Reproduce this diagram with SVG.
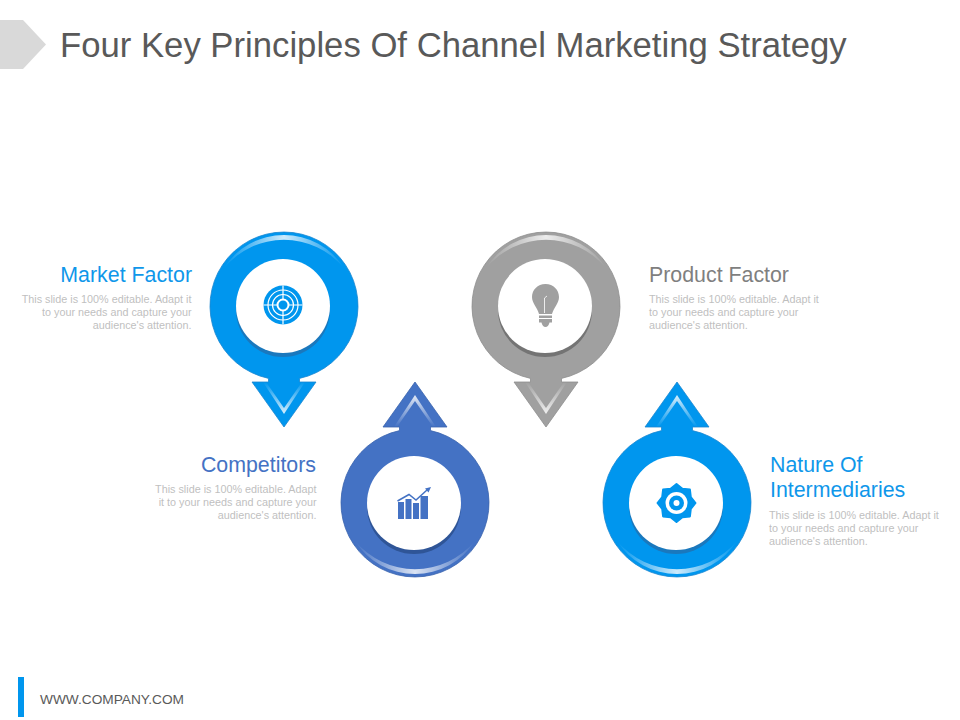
<svg xmlns="http://www.w3.org/2000/svg" width="960" height="720" viewBox="0 0 960 720">
<style>
text{font-family:"Liberation Sans",Arial,sans-serif}
.title{font-size:34.700px;fill:#595959}
.h{font-size:21.350px}
.d{font-size:10.800px;fill:#bfbfbf}
.e{text-anchor:end}
.blue{fill:#0096ee;stroke:#1a86d0;stroke-width:.8}
.navy{fill:#4472c4;stroke:#3a63ad;stroke-width:.8}
.gray{fill:#a0a0a0;stroke:#8e8e8e;stroke-width:.8}
.foot{font-size:13.700px;fill:#595959}
</style>
<defs>
<path id="pin" d="M-15.500 72.400A74 74 0 1 1 15.500 72.400V76H32L0 121L-32 76H-15.500Z"/>
<linearGradient id="sh" x1="0" y1="0" x2="1" y2="0">
<stop offset="0" stop-color="#fff" stop-opacity="0"/>
<stop offset=".5" stop-color="#fff" stop-opacity=".8"/>
<stop offset="1" stop-color="#fff" stop-opacity="0"/>
</linearGradient>
<linearGradient id="chev" x1="0" y1="0" x2="0" y2="1">
<stop offset="0" stop-color="#fff" stop-opacity="0"/>
<stop offset="1" stop-color="#fff" stop-opacity=".85"/>
</linearGradient>
<path id="crescent" fill="url(#sh)" d="M-60 -38A71 71 0 0 1 60 -38A78 78 0 0 0 -60 -38Z"/>
<path id="chevron" fill="url(#chev)" d="M-21 76L0 108L21 76H18L0 102L-18 76Z"/>
<g id="gloss"><use href="#crescent"/><use href="#chevron"/></g>
</defs>
<g id="header">
<polygon points="0,20 23,20 46,44.500 23,69 0,69" fill="#d9d9d9"/>
<text class="title" x="60" y="57">Four Key Principles Of Channel Marketing Strategy</text>
</g>
<g id="connectors"/>
<g id="node-market-factor">
<g transform="translate(284 306)">
<use href="#pin" class="blue"/>
<use href="#gloss"/>
<circle cx="-1" cy="4" r="47" fill="#1a78bd"/>
<circle cx="-1" cy="0" r="47" fill="#fff"/>
</g>
<g id="icon-target" transform="translate(283 305)">
<circle r="19.500" fill="#0096ee"/>
<g fill="none" stroke="#fff" stroke-width="1.200">
<circle r="15"/><circle r="10.500"/><circle r="5.500" stroke-width="2"/>
<path d="M-19.500 0H-5.500M5.500 0H19.500M0 -19.500V-5.500M0 5.500V19.500"/>
</g>
</g>
<text class="h e" x="192" y="282" fill="#0f97ea">Market Factor</text>
<text class="d e" x="191.500" y="302.500">This slide is 100% editable. Adapt it</text>
<text class="d e" x="191.500" y="315.500">to your needs and capture your</text>
<text class="d e" x="191.500" y="328.500">audience's attention.</text>
</g>
<g id="node-competitors">
<g transform="translate(415 503)">
<use href="#pin" class="navy" transform="rotate(180)"/>
<use href="#gloss" transform="rotate(180)"/>
<circle cx="-1" cy="4" r="47" fill="#2f5597"/>
<circle cx="-1" cy="0" r="47" fill="#fff"/>
</g>
<g id="icon-chart" fill="#4472c4">
<rect x="398" y="502" width="6" height="17"/>
<rect x="405.500" y="499" width="6" height="20"/>
<rect x="413" y="503" width="6" height="16"/>
<rect x="420.500" y="496" width="7.500" height="23"/>
<path d="M397.500 501L409 494.500L416 500L427 490" fill="none" stroke="#4472c4" stroke-width="1.500"/>
<polygon points="431,487 425,488.500 428.500,492.500"/>
</g>
<text class="h e" x="316" y="472" fill="#4472c4">Competitors</text>
<text class="d e" x="316.500" y="492.500">This slide is 100% editable. Adapt</text>
<text class="d e" x="316.500" y="505.500">it to your needs and capture your</text>
<text class="d e" x="316.500" y="518.500">audience's attention.</text>
</g>
<g id="node-product-factor">
<g transform="translate(546 306)">
<use href="#pin" class="gray"/>
<use href="#gloss"/>
<circle cx="-1" cy="4" r="47" fill="#747474"/>
<circle cx="-1" cy="0" r="47" fill="#fff"/>
</g>
<g id="icon-bulb">
<path fill="#a0a0a0" d="M545.500 284C537.500 284 532 290 532 297C532 303 537 307 539 314H552C554 307 559 303 559 297C559 290 553.500 284 545.500 284Z"/>
<path fill="#a0a0a0" d="M539 315.500H552V318H539ZM539 319H552V322.500H549.500C549 325 547.500 327 545.500 327C543.500 327 542 325 541.500 322.500H539Z"/>
<path d="M544.500 313V298L547 296" fill="none" stroke="#fff" stroke-width=".8"/>
</g>
<text class="h" x="649" y="282" fill="#7f7f7f">Product Factor</text>
<text class="d" x="649" y="302.500">This slide is 100% editable. Adapt it</text>
<text class="d" x="649" y="315.500">to your needs and capture your</text>
<text class="d" x="649" y="328.500">audience's attention.</text>
</g>
<g id="node-nature-of-intermediaries">
<g transform="translate(677 503)">
<use href="#pin" class="blue" transform="rotate(180)"/>
<use href="#gloss" transform="rotate(180)"/>
<circle cx="-1" cy="4" r="47" fill="#1a78bd"/>
<circle cx="-1" cy="0" r="47" fill="#fff"/>
</g>
<g id="icon-gear" transform="translate(676.500 503)">
<polygon fill="#0096ee" stroke="#0096ee" stroke-width="2" stroke-linejoin="round" points="19,0 14.300,5.900 13.400,13.400 5.900,14.300 0,19 -5.900,14.300 -13.400,13.400 -14.300,5.900 -19,0 -14.300,-5.900 -13.400,-13.400 -5.900,-14.300 0,-19 5.900,-14.300 13.400,-13.400 14.300,-5.900"/>
<circle r="11" fill="#fff"/>
<circle r="7.500" fill="#0096ee"/>
<circle r="3" fill="#fff"/>
</g>
<text class="h" x="770" y="472" fill="#0f97ea">Nature Of</text>
<text class="h" x="770" y="497" fill="#0f97ea">Intermediaries</text>
<text class="d" x="769" y="518.500">This slide is 100% editable. Adapt it</text>
<text class="d" x="769" y="531.500">to your needs and capture your</text>
<text class="d" x="769" y="544.500">audience's attention.</text>
</g>
<g id="footer">
<rect x="18" y="677" width="6" height="40" fill="#0096ee"/>
<text class="foot" x="40" y="704">WWW.COMPANY.COM</text>
</g>
</svg>
